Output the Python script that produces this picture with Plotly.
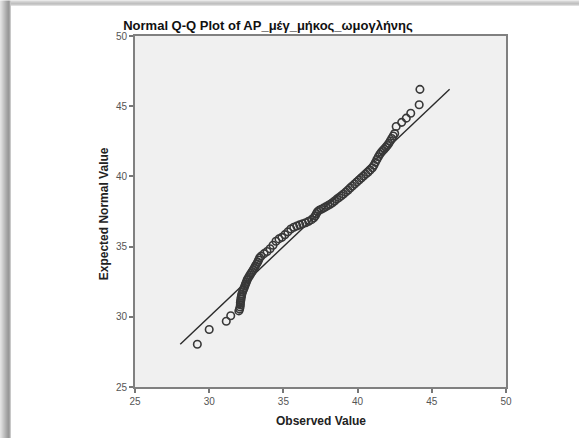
import plotly.graph_objects as go

# ---- data ----
observed = [
    29.2, 30.0, 31.15, 31.45, 32.0,
    32.05, 32.08, 32.1, 32.1, 32.12, 32.14, 32.15, 32.18, 32.2,
    32.25, 32.3, 32.35, 32.4, 32.45, 32.5, 32.55, 32.6, 32.68, 32.75,
    32.82, 32.9, 32.97, 33.05, 33.12, 33.2, 33.27, 33.33, 33.4, 33.5,
    33.7, 33.9, 34.1, 34.3, 34.5, 34.7, 34.9, 35.1, 35.3, 35.5, 35.7,
    35.9, 36.1, 36.3, 36.5, 36.7, 36.9, 37.05, 37.15, 37.22, 37.3, 37.4,
    37.55, 37.7, 37.85, 38.0, 38.15, 38.3, 38.45, 38.6, 38.75, 38.9,
    39.05, 39.2, 39.35, 39.5, 39.65, 39.8, 39.95, 40.1, 40.25, 40.4,
    40.55, 40.7, 40.85, 41.0, 41.1, 41.2, 41.3, 41.4, 41.5, 41.6, 41.7,
    41.8, 41.9, 42.0, 42.1, 42.2, 42.3, 42.4, 42.5,
    42.6, 42.97, 43.28, 43.58, 44.15, 44.2,
]
expected = [
    28.05, 29.1, 29.68, 30.08, 30.42,
    30.55, 30.7, 30.85, 31.0, 31.12, 31.25, 31.38, 31.5, 31.62,
    31.78, 31.92, 32.05, 32.2, 32.33, 32.46, 32.6, 32.72, 32.85, 32.98,
    33.1, 33.23, 33.36, 33.5, 33.63, 33.77, 33.9, 34.05, 34.2, 34.32,
    34.5, 34.65, 34.85, 35.1, 35.38, 35.55, 35.66, 35.85, 36.05, 36.25, 36.38,
    36.47, 36.55, 36.63, 36.7, 36.8, 36.92, 37.05, 37.2, 37.35, 37.48, 37.58,
    37.66, 37.74, 37.83, 37.92, 38.02, 38.12, 38.25, 38.38, 38.5, 38.62,
    38.74, 38.88, 39.02, 39.18, 39.32, 39.46, 39.6, 39.74, 39.88, 40.02,
    40.16, 40.3, 40.45, 40.62, 40.8, 41.0, 41.2, 41.4, 41.58, 41.72, 41.84,
    41.95, 42.07, 42.2, 42.35, 42.52, 42.7, 42.88, 43.05,
    43.55, 43.85, 44.15, 44.5, 45.1, 46.2,
]
tick_vals = [25, 30, 35, 40, 45, 50]
title_text = "Normal Q-Q Plot of AP_μέγ_μήκος_ωμογλήνης"
x_title = "Observed Value"
y_title = "Expected Normal Value"

# reference line spans the expected-value range (y = x)
line_ends = [min(expected), max(expected)]

W, H = 579, 438
L, R, T, B = 135, 73, 35.5, 51
pw, ph = W - L - R, H - T - B

def px_x(p):
    return (p - L) / pw

def px_y(p):
    return (H - B - p) / ph

fig = go.Figure()
fig.add_trace(go.Scatter(
    x=line_ends, y=line_ends, mode="lines",
    line=dict(color="#2a2a2a", width=1.4), hoverinfo="skip", showlegend=False,
))
fig.add_trace(go.Scatter(
    x=observed, y=expected, mode="markers",
    marker=dict(symbol="circle-open", size=7.5, color="#383838",
                line=dict(width=1.6, color="#383838")),
    showlegend=False,
))

# frame shadow (gray strips at left and top)
shapes = []
left_cols = ["#e2e2e2", "#dadada", "#d0d0d0", "#c6c6c6", "#bcbcbc", "#b2b2b2",
             "#a8a8a8", "#9f9f9f", "#989898", "#a4a4a4", "#c8c8c8"]
for i, c in enumerate(left_cols):
    shapes.append(dict(type="rect", xref="paper", yref="paper", layer="below",
                       x0=px_x(i), x1=px_x(i + 1), y0=px_y(H), y1=px_y(0),
                       fillcolor=c, line=dict(width=0)))
top_cols = ["#d4d4d4", "#c4c4c4", "#b4b4b4", "#a8a8a8", "#c0c0c0"]
for i, c in enumerate(top_cols):
    shapes.append(dict(type="rect", xref="paper", yref="paper", layer="below",
                       x0=px_x(len(left_cols)), x1=px_x(W), y0=px_y(i + 1), y1=px_y(i),
                       fillcolor=c, line=dict(width=0)))

axis_common = dict(
    range=[25, 50], tickvals=tick_vals, ticks="outside", ticklen=4, tickwidth=1.5,
    tickcolor="#777777", showline=True, linecolor="#808080", linewidth=1.6,
    mirror=True, showgrid=False, zeroline=False,
    tickfont=dict(family="Liberation Sans, Arial, sans-serif", size=10, color="#555555"),
)

fig.update_layout(
    width=W, height=H,
    margin=dict(l=L, r=R, t=T, b=B),
    paper_bgcolor="white", plot_bgcolor="#f0f0f0",
    xaxis=axis_common, yaxis=axis_common,
    shapes=shapes,
    title=dict(text=title_text, x=268 / W, xanchor="center", xref="container",
               y=1 - 25 / H, yanchor="middle", yref="container",
               font=dict(family="Liberation Sans, Arial, sans-serif", size=13,
                         color="#111111", weight="bold")),
    annotations=[
        dict(text=x_title, xref="paper", yref="paper", x=px_x(321), y=px_y(421),
             showarrow=False, xanchor="center", yanchor="middle",
             font=dict(family="Liberation Sans, Arial, sans-serif", size=12,
                       color="#222222", weight="bold")),
        dict(text=y_title, xref="paper", yref="paper", x=px_x(104), y=px_y(214),
             showarrow=False, xanchor="center", yanchor="middle", textangle=-90,
             font=dict(family="Liberation Sans, Arial, sans-serif", size=12,
                       color="#222222", weight="bold")),
    ],
)

fig.write_html("out.html")
